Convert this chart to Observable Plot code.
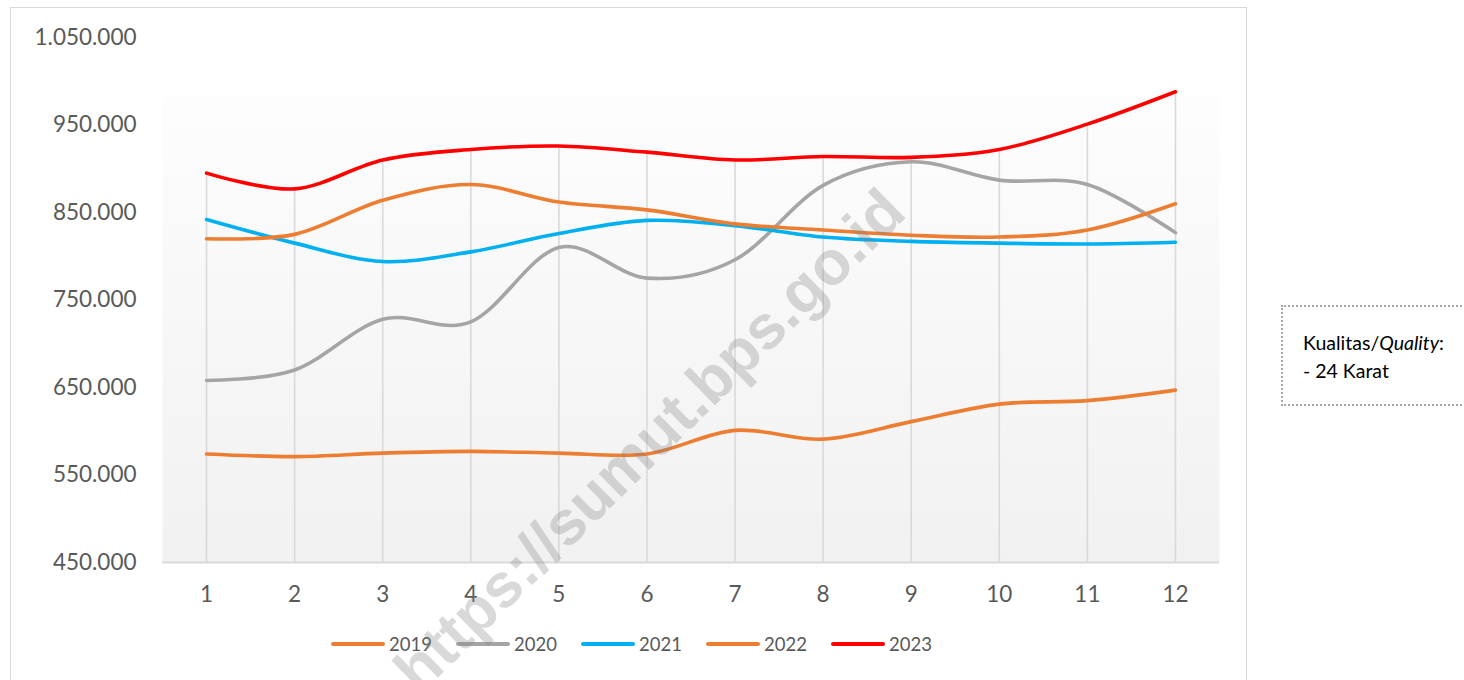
<!DOCTYPE html>
<html>
<head>
<meta charset="utf-8">
<script src="https://cdn.jsdelivr.net/npm/d3@7"></script>
<script src="https://cdn.jsdelivr.net/npm/@observablehq/plot@0.6"></script>
<style>
  html, body { margin: 0; padding: 0; background: #ffffff; }
  #wrap { position: relative; width: 1464px; height: 680px; overflow: hidden; font-family: Lato, "Open Sans", sans-serif; }
  #frameBox { position: absolute; left: 10px; top: 7px; width: 1237px; height: 720px; border: 1.5px solid #d9d9d9; box-sizing: border-box; }
  #chart { position: absolute; left: 0; top: 0; }
  #legend { position: absolute; left: 0; top: 620px; width: 1464px; height: 60px; }
  #legendRow { position: absolute; left: 331px; top: 12px; display: flex; align-items: center; height: 24px; }
  .item { display: flex; align-items: center; margin-right: 25px; }
  .sw { width: 54px; height: 4px; border-radius: 2px; margin-right: 4px; }
  .lab { font-size: 18.5px; color: #595959; width: 42px; }
  #note { position: absolute; left: 1281px; top: 305px; width: 220px; height: 101px; border: 2px dotted #a6a6a6; box-sizing: border-box; padding: 22px 0 0 20px; font-size: 19.5px; line-height: 28px; color: #000; }
  #wm { position: absolute; left: 649px; top: 440px; transform: translate(-50%, -50%) rotate(-44.5deg); font-family: "Liberation Sans", Arial, sans-serif; font-weight: bold; font-size: 62px; color: rgba(128,128,128,0.3); white-space: nowrap; pointer-events: none; }
</style>
</head>
<body>
<div id="wrap">
  <div id="frameBox"></div>
  <div id="chart"></div>
  <div id="legend"><div id="legendRow"></div></div>
  <div id="note">Kualitas/<i>Quality</i>:<br>- 24 Karat</div>
  <div id="wm">https://sumut.bps.go.id</div>
</div>
<script>
const months = [1, 2, 3, 4, 5, 6, 7, 8, 9, 10, 11, 12];
const years = ["2019", "2020", "2021", "2022", "2023"];
const colors = ["#ED7D31", "#A5A5A5", "#00B0F0", "#ED7D31", "#FF0000"];
const v2019 = [574000, 571000, 575000, 577000, 575000, 574000, 601000, 591000, 611000, 631000, 635000, 647000];
const v2020 = [658000, 670000, 728000, 725000, 810000, 775000, 796000, 881000, 908000, 887000, 882000, 827000];
const v2021 = [842000, 815000, 794000, 805000, 826000, 841000, 835000, 822000, 817000, 815000, 814000, 816000];
const v2022 = [820000, 825000, 864000, 882000, 862000, 853000, 837000, 830000, 824000, 822000, 830000, 860000];
const v2023 = [895000, 877000, 910000, 922000, 926000, 919000, 910000, 914000, 913000, 922000, 951000, 988000];
const yTicks = [450000, 550000, 650000, 750000, 850000, 950000, 1050000];

const seriesValues = [v2019, v2020, v2021, v2022, v2023];
const series = years.map((y, k) => months.map((m, i) => ({month: m, value: seriesValues[k][i], year: y})));
const tops = months.map((m, i) => ({month: m, top: d3.max(seriesValues, s => s[i])}));

const fmt = d3.formatLocale({decimal: ",", thousands: ".", grouping: [3], currency: ["", ""]}).format(",d");

const plot = Plot.plot({
  width: 1464,
  height: 620,
  marginLeft: 162,
  marginRight: 245,
  marginTop: 37,
  marginBottom: 58,
  style: {fontFamily: "Lato, 'Open Sans', sans-serif", fontSize: "22.5px", color: "#595959", background: "transparent", overflow: "visible"},
  x: {type: "linear", domain: [0.5, 12.5]},
  y: {domain: [450000, 1050000]},
  marks: [
    Plot.frame({fill: "url(#plotBg)", stroke: "none"}),
    Plot.ruleX(tops, {x: "month", y1: 450000, y2: "top", stroke: "#d9d9d9", strokeWidth: 1.6}),
    Plot.ruleY([450000], {stroke: "#d9d9d9", strokeWidth: 1.8}),
    Plot.axisY({ticks: yTicks, tickFormat: fmt, tickSize: 0, tickPadding: 26, label: null}),
    Plot.axisX({ticks: months, tickFormat: d => String(d), tickSize: 0, tickPadding: 24, label: null}),
    ...series.map((s, k) => Plot.line(s, {x: "month", y: "value", stroke: colors[k], strokeWidth: 3.6, curve: "cardinal", tension: 0, strokeLinecap: "round", strokeLinejoin: "round"}))
  ]
});

const svgSel = d3.select(plot);
const defs = svgSel.insert("defs", ":first-child");
const grad = defs.append("linearGradient").attr("id", "plotBg").attr("x1", 0).attr("y1", 0).attr("x2", 0).attr("y2", 1);
grad.append("stop").attr("offset", "0").attr("stop-color", "#ffffff").attr("stop-opacity", 0);
grad.append("stop").attr("offset", "0.114").attr("stop-color", "#ffffff").attr("stop-opacity", 0);
grad.append("stop").attr("offset", "0.114").attr("stop-color", "#fdfdfd").attr("stop-opacity", 1);
grad.append("stop").attr("offset", "1").attr("stop-color", "#f1f1f1").attr("stop-opacity", 1);

document.getElementById("chart").appendChild(plot);

const row = d3.select("#legendRow");
years.forEach((y, k) => {
  const it = row.append("div").attr("class", "item");
  it.append("div").attr("class", "sw").style("background", colors[k]);
  it.append("div").attr("class", "lab").text(y);
});
</script>
</body>
</html>
